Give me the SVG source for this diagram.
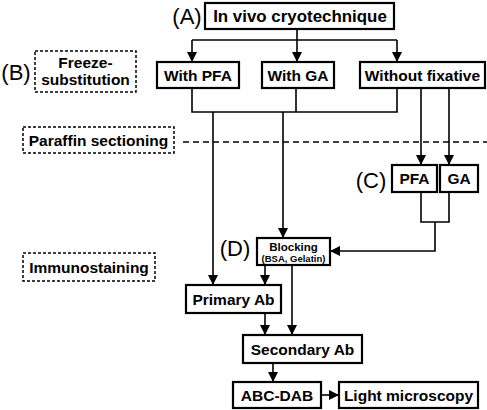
<svg xmlns="http://www.w3.org/2000/svg" width="487" height="410" viewBox="0 0 487 410">
<defs>
<marker id="ah" viewBox="0 0 10 10" refX="10" refY="5" markerWidth="10" markerHeight="10" markerUnits="userSpaceOnUse" orient="auto">
<path d="M0,0 L10,5 L0,10 Z" fill="#000"/>
</marker>
</defs>
<style>
.box{fill:#fff;stroke:#000;stroke-width:2.2}
.dbox{fill:#fff;stroke:#000;stroke-width:1.5;stroke-dasharray:3,2}
.t{font-family:"Liberation Sans",Arial,sans-serif;font-weight:bold;font-size:15.5px;text-anchor:middle;fill:#000}
.lab{font-family:"Liberation Sans",Arial,sans-serif;font-size:22px;text-anchor:middle;fill:#000}
.c{fill:none;stroke:#000;stroke-width:1.6}
.a{fill:none;stroke:#000;stroke-width:1.6;marker-end:url(#ah)}
</style>
<rect width="487" height="410" fill="#fff"/>
<g id="connectors">
<path class="c" d="M297,29 V40 M192,40 H397"/>
<path class="a" d="M192,40 V62"/>
<path class="a" d="M297,40 V62"/>
<path class="a" d="M397,40 V62"/>
<path class="c" d="M192,88 V112 H397 V88 M296,88 V112"/>
<path class="a" d="M213,112 V285"/>
<path class="a" d="M283,112 V238"/>
<path class="c" d="M183,142 H487" stroke-dasharray="6,4"/>
<path class="a" d="M421,88 V165"/>
<path class="a" d="M449,88 V165"/>
<path class="c" d="M421,192 V222 H449 V192"/>
<path class="a" d="M435,222 V251 H330"/>
<path class="a" d="M265,265 V285"/>
<path class="a" d="M292,265 V335"/>
<path class="a" d="M265,313 V335"/>
<path class="a" d="M273,363 V382"/>
<path class="a" d="M321,395 H339"/>
</g>
<g id="labelA"><text class="lab" x="187" y="24">(A)</text></g>
<g id="labelB"><text class="lab" x="16" y="80">(B)</text></g>
<g id="labelC"><text class="lab" x="371" y="188">(C)</text></g>
<g id="labelD"><text class="lab" x="235" y="256">(D)</text></g>
<g id="nodeA"><rect class="box" x="205" y="3" width="189" height="26"/><text class="t" x="300" y="22" style="font-size:16.9px">In vivo cryotechnique</text></g>
<g id="freeze"><rect class="dbox" x="35" y="51" width="101" height="41"/><text class="t" x="85.5" y="68">Freeze-</text><text class="t" x="85.5" y="85">substitution</text></g>
<g id="withPFA"><rect class="box" x="157" y="62" width="82" height="26"/><text class="t" x="198" y="80.5">With PFA</text></g>
<g id="withGA"><rect class="box" x="262" y="62" width="72" height="26"/><text class="t" x="298" y="80.5">With GA</text></g>
<g id="without"><rect class="box" x="360" y="62" width="125" height="26"/><text class="t" x="422.5" y="80.5">Without fixative</text></g>
<g id="paraffin"><rect class="dbox" x="23" y="127" width="151" height="26"/><text class="t" x="98.5" y="145.5">Paraffin sectioning</text></g>
<g id="pfa"><rect class="box" x="392" y="165" width="45" height="27"/><text class="t" x="414.5" y="184">PFA</text></g>
<g id="ga"><rect class="box" x="440" y="165" width="38" height="27"/><text class="t" x="459" y="184">GA</text></g>
<g id="immuno"><rect class="dbox" x="23" y="253" width="132" height="28"/><text class="t" x="89" y="272.5">Immunostaining</text></g>
<g id="blocking"><rect class="box" x="257" y="238" width="73" height="27"/><text class="t" x="293.5" y="251" style="font-size:11.5px">Blocking</text><text class="t" x="293.5" y="262" style="font-size:9.5px">(BSA, Gelatin)</text></g>
<g id="primary"><rect class="box" x="186" y="285" width="95" height="28"/><text class="t" x="233.5" y="304.5">Primary Ab</text></g>
<g id="secondary"><rect class="box" x="243" y="335" width="119" height="28"/><text class="t" x="302.5" y="354.5">Secondary Ab</text></g>
<g id="abc"><rect class="box" x="233" y="382" width="88" height="26"/><text class="t" x="277" y="400.5">ABC-DAB</text></g>
<g id="light"><rect class="box" x="339" y="382" width="139" height="26"/><text class="t" x="408.5" y="400.5">Light microscopy</text></g>
</svg>
